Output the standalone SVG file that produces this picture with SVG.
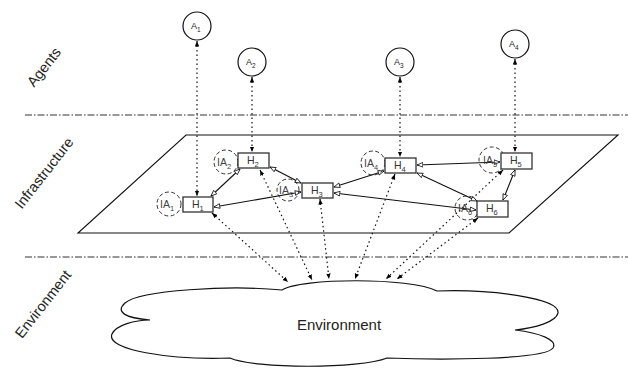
<svg xmlns="http://www.w3.org/2000/svg" width="628" height="368" viewBox="0 0 628 368">
<style>
text{font-family:"Liberation Sans",Arial,sans-serif;fill:#222}
.sep{stroke:#333;stroke-width:1.2;stroke-dasharray:7,2,1.5,2;fill:none}
.agent{fill:#fff;stroke:#111;stroke-width:1.2}
.hbox{fill:#fff;stroke:#333;stroke-width:1.3}
.ia{fill:none;stroke:#333;stroke-width:1;stroke-dasharray:4,2.5}
.dot{stroke:#111;stroke-width:1.2;stroke-dasharray:1.5,3;fill:none;marker-start:url(#fa);marker-end:url(#fa)}
.sol{stroke:#111;stroke-width:1.1;fill:none;marker-start:url(#oa);marker-end:url(#oa)}
.lbl{font-size:9px}
.hl{font-size:10.5px;fill:#333}
.ial{font-size:10.5px;fill:#444}
.side{font-size:14.5px;fill:#222}
</style>
<defs>
<marker id="fa" viewBox="0 0 10 10" refX="10" refY="5" markerWidth="5.5" markerHeight="5.5" orient="auto-start-reverse" markerUnits="userSpaceOnUse"><path d="M0,1 L10,5 L0,9 z" fill="#000"/></marker>
<marker id="oa" viewBox="0 0 12 12" refX="11" refY="6" markerWidth="7" markerHeight="7" orient="auto-start-reverse" markerUnits="userSpaceOnUse"><path d="M1,2 L11,6 L1,10 z" fill="#fff" stroke="#000" stroke-width="1.3"/></marker>
</defs>

<g id="separators">
<line class="sep" x1="25" y1="115" x2="628" y2="115"/>
<line class="sep" x1="25" y1="257" x2="628" y2="257"/>
</g>

<g id="layer-labels">
<text class="side" transform="translate(44,67) rotate(-52)" text-anchor="middle" dy="5">Agents</text>
<text class="side" transform="translate(44,173) rotate(-52)" text-anchor="middle" dy="5">Infrastructure</text>
<text class="side" transform="translate(43,304) rotate(-52)" text-anchor="middle" dy="5">Environment</text>
</g>

<g id="infrastructure-plane">
<polygon points="186,135 618,135 509,233 78,233" fill="none" stroke="#111" stroke-width="1.1"/>
</g>

<g id="environment">
<path d="M282,290 C300,278 410,277 437,291 C490,289 560,298 558,313 C556,322 535,328 515,330 C540,333 558,340 553,348 C545,360 440,360 387,358 C360,369 255,369 230,358 C170,360 105,350 112,334 C116,325 135,320 150,320 C125,318 115,312 125,303 C140,290 230,285 282,290 Z" fill="#fff" stroke="#111" stroke-width="1.2"/>
<text x="339" y="330" font-size="15" text-anchor="middle">Environment</text>
</g>

<g id="connectors">
<line class="dot" x1="197" y1="41" x2="197" y2="196"/>
<line class="dot" x1="252" y1="77" x2="252" y2="152"/>
<line class="dot" x1="400" y1="77" x2="400" y2="157"/>
<line class="dot" x1="515" y1="59" x2="515" y2="152"/>
<line class="dot" x1="212" y1="213" x2="288" y2="282"/>
<line class="dot" x1="260" y1="170" x2="312" y2="280"/>
<line class="dot" x1="320" y1="199" x2="329" y2="279"/>
<line class="dot" x1="395" y1="174" x2="355" y2="279"/>
<line class="dot" x1="503" y1="170" x2="386" y2="279"/>
<line class="dot" x1="478" y1="218" x2="397" y2="279"/>
<line class="sol" x1="211" y1="196" x2="240" y2="169"/>
<line class="sol" x1="270" y1="167" x2="301" y2="183"/>
<line class="sol" x1="214" y1="207" x2="301" y2="192"/>
<line class="sol" x1="384" y1="171" x2="334" y2="187"/>
<line class="sol" x1="476" y1="210" x2="334" y2="193"/>
<line class="sol" x1="417" y1="165" x2="500" y2="162"/>
<line class="sol" x1="417" y1="173" x2="477" y2="201"/>
<line class="sol" x1="515" y1="170" x2="503" y2="200"/>
</g>

<g id="A1"><circle class="agent" cx="197" cy="26" r="14"/><text class="lbl" x="191" y="29">A<tspan font-size="6.5" dy="2.5">1</tspan></text></g>
<g id="A2"><circle class="agent" cx="252" cy="62" r="14"/><text class="lbl" x="246" y="65">A<tspan font-size="6.5" dy="2.5">2</tspan></text></g>
<g id="A3"><circle class="agent" cx="400" cy="62" r="14"/><text class="lbl" x="394" y="65">A<tspan font-size="6.5" dy="2.5">3</tspan></text></g>
<g id="A4"><circle class="agent" cx="515" cy="44" r="14"/><text class="lbl" x="509" y="47">A<tspan font-size="6.5" dy="2.5">4</tspan></text></g>

<g id="IA1"><circle class="ia" cx="169" cy="204" r="12"/><text class="ial" x="160" y="208">IA<tspan font-size="7.5" dy="3">1</tspan></text></g>
<g id="H1"><rect class="hbox" x="183" y="197" width="30" height="15"/><text class="hl" x="192" y="208">H<tspan font-size="7.5" dy="2.5">1</tspan></text></g>

<g id="IA2"><circle class="ia" cx="226" cy="162" r="12"/><text class="ial" x="217" y="166">IA<tspan font-size="7.5" dy="3">2</tspan></text></g>
<g id="H2"><rect class="hbox" x="238" y="153" width="31" height="15"/><text class="hl" x="247" y="164">H<tspan font-size="7.5" dy="2.5">2</tspan></text></g>

<g id="IA3"><circle class="ia" cx="288" cy="190" r="11"/><text class="ial" x="279" y="194">IA<tspan font-size="7.5" dy="3">3</tspan></text></g>
<g id="H3"><rect class="hbox" x="302" y="183" width="31" height="15"/><text class="hl" x="311" y="194">H<tspan font-size="7.5" dy="2.5">3</tspan></text></g>

<g id="IA4"><circle class="ia" cx="373" cy="163" r="12"/><text class="ial" x="364" y="167">IA<tspan font-size="7.5" dy="3">4</tspan></text></g>
<g id="H4"><rect class="hbox" x="385" y="158" width="31" height="15"/><text class="hl" x="394" y="169">H<tspan font-size="7.5" dy="2.5">4</tspan></text></g>

<g id="IA5"><circle class="ia" cx="492" cy="160" r="13"/><text class="ial" x="483" y="164">IA<tspan font-size="7.5" dy="3">5</tspan></text></g>
<g id="H5"><rect class="hbox" x="501" y="153" width="31" height="16"/><text class="hl" x="510" y="164">H<tspan font-size="7.5" dy="2.5">5</tspan></text></g>

<g id="IA6"><circle class="ia" cx="467" cy="208" r="12"/><text class="ial" x="458" y="212">IA<tspan font-size="7.5" dy="3">6</tspan></text></g>
<g id="H6"><rect class="hbox" x="477" y="201" width="31" height="16"/><text class="hl" x="486" y="212">H<tspan font-size="7.5" dy="2.5">6</tspan></text></g>
</svg>
